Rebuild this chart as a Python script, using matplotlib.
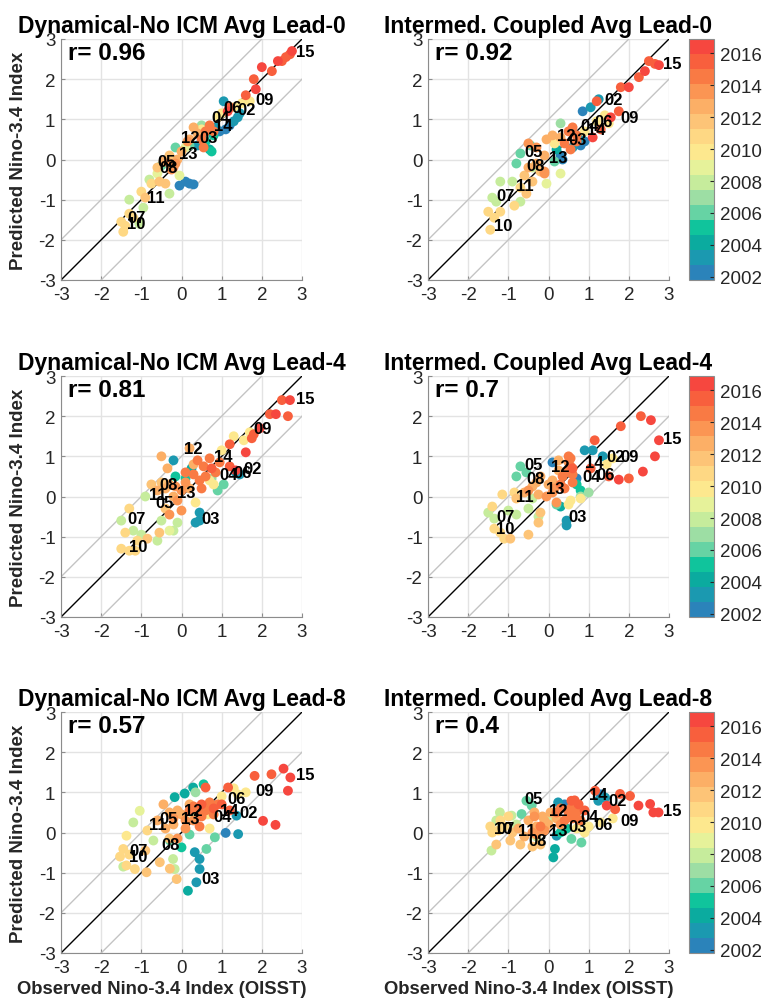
import matplotlib
matplotlib.use('Agg')
import matplotlib.pyplot as plt
from matplotlib.colors import ListedColormap, Normalize
from matplotlib.colorbar import ColorbarBase

plt.rcParams['font.family'] = ['Liberation Sans', 'DejaVu Sans']

# (observed, predicted, decimal year)
dyn0_pts = [
    (2.75, 2.7, 2016.0), (2.7, 2.62, 2015.9), (2.6, 2.55, 2015.8), (2.5, 2.45, 2015.7),
    (2.4, 2.45, 2016.1), (2.25, 2.2, 2015.6), (2.0, 2.3, 2016.2), (1.8, 2.0, 2015.5),
    (1.85, 1.75, 2016.3), (1.6, 1.6, 2015.4), (1.2, 1.3, 2015.3), (1.15, 1.2, 2016.4),
    (1.3, 0.95, 2002.8), (1.4, 1.05, 2002.9), (1.2, 0.85, 2002.7), (1.1, 0.75, 2002.6),
    (1.45, 1.15, 2002.95), (0.95, 0.7, 2002.5), (0.85, 0.8, 2003.0), (0.2, -0.6, 2002.1),
    (0.3, -0.62, 2002.2), (0.1, -0.55, 2002.3), (-0.05, -0.65, 2002.0),
    (1.05, 1.45, 2003.2), (0.7, 0.25, 2004.5), (0.6, 0.45, 2004.7), (0.4, 0.35, 2003.6),
    (0.8, 0.6, 2004.9), (-0.5, -0.15, 2005.9), (0.75, 0.2, 2005.2), (-0.15, 0.3, 2006.0),
    (0.2, 0.35, 2006.5), (0.5, 0.85, 2006.9),
    (-1.3, -1.0, 2008.0), (-0.95, -1.2, 2007.9), (-0.3, -0.85, 2008.3), (-0.05, -0.4, 2008.5),
    (-1.05, -1.6, 2008.1), (-0.8, -0.5, 2007.6),
    (-1.45, -1.8, 2010.9), (-1.4, -1.65, 2010.8), (-1.5, -1.55, 2010.7), (1.7, 1.45, 2009.9),
    (1.5, 1.4, 2009.8), (1.3, 1.3, 2010.0), (0.9, 1.05, 2009.6), (0.5, 0.75, 2009.5),
    (0.1, 0.3, 2009.3), (-0.6, -0.35, 2009.0),
    (-1.3, -1.35, 2011.0), (-1.2, -1.45, 2010.6), (-1.0, -0.8, 2011.2), (-0.9, -0.95, 2011.9),
    (-0.75, -0.6, 2011.1), (-0.55, -0.55, 2012.0), (-0.4, -0.6, 2011.5), (-0.3, 0.1, 2011.6),
    (1.0, 1.15, 2010.1),
    (-0.6, -0.2, 2012.1), (-0.45, -0.05, 2012.3), (-0.3, -0.1, 2013.5), (-0.2, -0.2, 2013.2),
    (-0.1, 0.0, 2013.0), (0.0, 0.2, 2012.9), (0.2, 0.5, 2012.6), (0.4, 0.65, 2012.5),
    (0.3, 0.8, 2012.4), (0.15, 0.45, 2013.3),
    (0.5, 0.5, 2014.5), (0.6, 0.7, 2014.7), (0.7, 0.85, 2014.8), (0.55, 0.3, 2014.2),
    (-0.25, -0.25, 2014.0), (0.8, 0.7, 2014.9), (-0.15, -0.1, 2013.9),
]
icm0_pts = [
    (2.75, 2.35, 2016.0), (2.65, 2.38, 2015.9), (2.5, 2.45, 2015.8), (2.4, 2.2, 2016.1),
    (2.25, 2.05, 2015.7), (2.0, 1.8, 2016.2), (1.8, 1.8, 2015.6), (1.75, 1.2, 2015.5),
    (1.55, 1.05, 2016.3), (1.3, 0.75, 2015.4), (1.1, 0.55, 2016.4), (1.2, 1.45, 2015.3),
    (0.7, 0.45, 2015.0),
    (1.25, 1.5, 2002.9), (0.85, 1.2, 2002.7), (1.05, 1.3, 2002.8), (0.9, 0.45, 2002.5),
    (0.8, 0.35, 2002.3), (0.3, 0.1, 2002.1), (0.35, 0.0, 2002.0),
    (0.8, 0.55, 2003.1), (0.6, 0.3, 2003.6), (0.2, 0.25, 2004.5),
    (-0.7, 0.15, 2005.9), (-0.45, 0.35, 2006.0), (-0.8, -0.1, 2005.8), (0.3, 0.9, 2006.8),
    (0.15, -0.05, 2006.3),
    (-1.2, -0.55, 2008.1), (-1.4, -0.95, 2007.9), (-0.9, -0.55, 2008.2), (-0.4, -0.2, 2008.4),
    (-1.3, -1.05, 2008.0), (-0.7, -1.05, 2007.8),
    (1.5, 0.9, 2009.9), (1.4, 1.1, 2010.0), (1.2, 0.95, 2009.8), (0.9, 0.7, 2009.7),
    (0.3, -0.35, 2009.3), (-0.05, -0.6, 2009.1), (-1.5, -1.3, 2010.7), (-1.35, -1.45, 2010.8),
    (-1.45, -1.75, 2010.9), (-1.2, -1.3, 2011.0), (-0.85, -1.15, 2011.1), (-0.7, -0.7, 2011.2),
    (-0.55, -0.85, 2011.9), (-0.4, -0.55, 2012.0), (-0.6, -0.4, 2011.5), (-0.2, -0.3, 2011.6),
    (0.15, 0.4, 2010.1),
    (-0.5, -0.2, 2012.2), (-0.3, -0.1, 2012.4), (-0.1, 0.1, 2012.6), (0.1, 0.6, 2012.8),
    (-0.05, 0.5, 2012.9), (0.3, 0.55, 2013.1), (-0.3, 0.3, 2013.3), (-0.1, -0.3, 2013.6),
    (0.5, 0.7, 2014.5), (0.6, 0.8, 2014.7), (0.55, 0.25, 2014.2), (-0.1, -0.35, 2014.0),
    (0.4, 0.4, 2014.8), (0.7, 0.6, 2014.9), (-0.5, 0.4, 2013.9),
]
dyn4_pts = [
    (2.7, 2.4, 2016.0), (2.5, 2.4, 2015.9), (2.65, 2.0, 2015.8), (2.35, 2.05, 2016.1),
    (2.2, 2.05, 2015.7), (1.95, 1.7, 2016.2), (1.8, 1.55, 2015.6), (1.75, 1.45, 2015.5),
    (1.6, 1.1, 2016.3), (1.2, 1.3, 2015.3), (1.2, 0.75, 2015.4), (1.35, 0.65, 2016.4),
    (0.95, 0.85, 2014.9), (0.7, 0.95, 2014.8), (0.55, 0.75, 2014.6), (0.85, 0.6, 2014.7),
    (1.45, 0.55, 2002.9), (1.35, 0.6, 2002.8), (0.45, -0.4, 2003.1), (0.45, -0.6, 2003.0),
    (0.35, -0.65, 2002.9),
    (-0.2, 0.9, 2003.5), (0.25, 0.7, 2004.5), (0.1, 0.45, 2005.0), (1.05, 0.3, 2006.2),
    (0.9, 0.15, 2006.0), (-0.15, 0.5, 2005.5),
    (-1.5, -0.6, 2008.0), (-1.2, -0.85, 2007.9), (-1.0, -0.95, 2008.1), (-0.5, -0.6, 2007.8),
    (-0.2, -0.85, 2008.4), (-0.1, -0.65, 2008.3), (-0.6, -1.1, 2008.2), (-0.9, 0.0, 2007.5),
    (0.75, 0.45, 2006.9),
    (-1.4, -0.9, 2010.8), (-1.5, -1.3, 2010.7), (1.3, 1.5, 2009.9), (1.55, 1.4, 2009.8),
    (1.7, 1.6, 2010.0), (1.0, 1.15, 2009.7), (0.7, 0.4, 2009.6), (0.35, -0.15, 2009.4),
    (0.8, 0.3, 2009.5), (-0.3, -0.85, 2009.1),
    (-1.3, -1.35, 2010.9), (-1.15, -1.35, 2011.0), (-1.1, -1.1, 2011.2), (-1.3, -0.3, 2011.1),
    (-0.85, -1.05, 2011.9), (-0.75, 0.3, 2011.5), (-0.5, 0.35, 2011.6), (-0.4, -0.3, 2012.0),
    (-0.55, -0.9, 2011.8),
    (-0.5, 1.0, 2012.5), (0.2, 1.2, 2012.6), (-0.35, 0.7, 2012.4), (-0.6, 0.15, 2012.2),
    (-0.4, 0.2, 2012.3), (-0.2, 0.0, 2013.0), (-0.1, -0.1, 2013.2), (0.0, 0.15, 2013.3),
    (0.3, 0.8, 2012.8), (0.2, 0.2, 2012.9), (-0.3, -0.45, 2013.6), (0.0, -0.35, 2013.9),
    (0.3, 0.55, 2014.5), (0.45, 0.4, 2014.3), (0.6, 0.5, 2014.4), (-0.15, 0.25, 2014.0),
    (0.5, 0.2, 2014.2), (0.1, 0.6, 2014.1),
    (0.1, 0.35, 2013.4), (0.4, 0.9, 2014.6), (0.75, 0.7, 2015.1), (-0.3, 0.3, 2012.7),
]
icm4_pts = [
    (2.3, 2.0, 2015.9), (2.55, 1.9, 2016.0), (1.8, 1.75, 2015.8), (1.15, 1.4, 2015.7),
    (2.75, 1.4, 2016.1), (2.65, 1.0, 2016.2), (2.35, 0.62, 2016.3), (2.0, 0.45, 2015.6),
    (1.75, 0.42, 2016.4), (1.5, 0.5, 2015.5), (1.05, 0.7, 2015.4), (0.55, 0.95, 2015.0),
    (0.6, 0.55, 2014.9),
    (0.9, 1.15, 2002.8), (1.1, 1.15, 2002.9), (1.35, 1.0, 2003.0), (0.1, 0.85, 2002.5),
    (0.45, -0.6, 2003.1), (0.45, -0.72, 2003.2), (0.7, 0.45, 2002.7),
    (-0.7, 0.75, 2005.9), (-0.8, 0.5, 2006.0), (-0.55, 0.6, 2006.1), (0.3, -0.25, 2004.5),
    (0.7, 0.3, 2005.0), (0.2, -0.2, 2006.5), (0.8, 0.15, 2004.8),
    (-1.5, -0.4, 2008.0), (-1.35, -0.55, 2007.9), (-1.0, -0.35, 2008.1), (-0.8, -0.45, 2008.2),
    (-0.5, -0.3, 2008.3), (-0.25, -0.5, 2008.4), (-0.4, -0.05, 2007.8), (0.8, 0.0, 2007.0),
    (1.0, 0.1, 2006.9),
    (-1.15, 0.05, 2010.8), (-0.85, 0.1, 2010.9), (1.6, 0.95, 2010.0), (1.45, 0.8, 2009.9),
    (0.55, -0.1, 2009.6), (0.8, -0.05, 2009.5), (0.5, -0.2, 2009.4),
    (-1.35, -0.8, 2011.0), (-1.4, -0.25, 2010.7), (-1.2, -0.9, 2011.1), (-1.1, -1.05, 2011.2),
    (-0.95, -1.05, 2011.9), (-0.5, -0.95, 2011.8), (-0.25, -0.65, 2011.5), (-0.8, -0.05, 2011.6),
    (-0.2, -0.4, 2012.0),
    (-0.4, 0.25, 2012.3), (-0.2, 0.5, 2012.5), (0.1, 0.4, 2012.6), (0.25, 0.65, 2012.8),
    (-0.6, 0.1, 2012.2), (-0.25, 0.05, 2013.0), (0.1, 0.1, 2013.2), (0.2, -0.15, 2013.5),
    (0.5, 1.0, 2014.5), (0.35, 0.5, 2014.3), (0.6, 0.35, 2014.2), (0.15, 0.2, 2014.0),
    (0.55, 0.75, 2014.6), (-0.05, 0.0, 2013.9), (0.4, 0.2, 2014.1),
    (0.3, 0.3, 2014.4), (0.45, 0.6, 2014.7), (0.25, 0.9, 2013.1), (0.0, 0.3, 2012.7),
    (-0.3, 0.35, 2012.4), (-0.5, 0.15, 2013.4), (0.6, 0.7, 2015.1), (0.5, 0.85, 2013.7),
]
dyn8_pts = [
    (1.82, 1.41, 2015.8), (2.24, 1.45, 2015.9), (2.54, 1.59, 2016.0), (2.71, 1.37, 2016.1),
    (2.65, 1.04, 2016.2), (2.03, 0.29, 2016.3), (2.34, 0.19, 2016.4), (1.16, 1.12, 2015.7),
    (0.6, 1.12, 2015.5), (1.0, 0.7, 2015.6), (1.2, 0.55, 2015.4), (0.8, 0.6, 2015.3),
    (1.37, 0.42, 2002.9), (1.41, -0.04, 2002.8), (1.1, -0.01, 2002.7), (0.45, -0.66, 2003.0),
    (0.45, -0.91, 2003.1), (0.37, -1.24, 2003.2), (0.16, -1.45, 2004.0), (0.33, -0.49, 2003.5),
    (0.08, 0.97, 2004.6), (0.29, 1.12, 2003.8), (-0.17, 0.88, 2004.2), (0.55, 1.2, 2005.5),
    (0.83, -0.12, 2006.0), (0.62, -0.41, 2006.2), (0.0, -0.37, 2005.2), (-0.29, -0.2, 2006.4),
    (0.35, 1.0, 2006.8), (0.2, -0.05, 2005.8),
    (-1.04, 0.54, 2008.5), (-1.2, 0.25, 2008.0), (-0.21, -0.66, 2008.2), (-0.17, -0.91, 2008.3),
    (-1.37, -0.08, 2010.2), (-1.45, -0.85, 2007.9), (-0.7, -0.2, 2008.1), (0.3, 0.45, 2007.5),
    (1.4, 0.95, 2009.9), (1.6, 1.0, 2010.0), (1.3, 1.1, 2009.8), (1.0, 0.9, 2009.7),
    (0.65, 0.45, 2009.5), (0.7, 0.1, 2009.4), (-1.3, -0.55, 2010.8),
    (-1.45, -0.41, 2010.9), (-1.37, -0.82, 2011.0), (-1.16, -0.91, 2011.1), (-0.87, -0.99, 2011.9),
    (-0.54, -0.74, 2011.8), (-0.29, -0.9, 2011.5), (-0.12, -1.16, 2011.6), (-1.53, -0.6, 2010.7),
    (-0.85, 0.05, 2011.2), (-0.9, -0.45, 2012.0), (-0.3, -0.15, 2011.3),
    (-0.45, 0.7, 2012.5), (-0.3, 0.5, 2012.4), (-0.6, 0.3, 2012.2), (-0.2, 0.2, 2012.6),
    (0.0, 0.45, 2012.8), (0.2, 0.7, 2012.9), (-0.4, 0.1, 2013.0), (0.1, 0.1, 2013.3),
    (0.3, 0.3, 2013.5), (-0.1, -0.15, 2013.8),
    (0.4, 0.6, 2014.5), (0.6, 0.55, 2014.6), (0.5, 0.4, 2014.3), (0.2, 0.55, 2014.2),
    (-0.2, 0.35, 2014.0), (0.8, 0.45, 2014.8), (0.45, 0.15, 2014.1), (0.9, 0.7, 2014.9),
    (0.1, 0.3, 2013.6), (0.3, 0.65, 2014.4), (0.7, 0.75, 2014.7), (-0.1, 0.55, 2012.7),
    (0.5, 0.7, 2015.2),
]
icm8_pts = [
    (1.16, 1.04, 2015.6), (1.78, 0.96, 2015.8), (2.03, 0.91, 2015.9), (2.24, 0.67, 2016.0),
    (2.53, 0.71, 2016.1), (2.61, 0.5, 2016.2), (2.74, 0.5, 2016.3), (1.66, 0.58, 2015.7),
    (1.45, 0.67, 2016.4), (0.57, 0.79, 2015.4), (0.75, 0.7, 2015.5), (0.9, 0.55, 2015.3),
    (1.41, 0.87, 2002.9), (1.24, 0.79, 2002.8), (1.3, 0.95, 2002.7), (0.24, 0.75, 2003.0),
    (0.2, -0.08, 2003.5), (0.16, -0.41, 2004.0), (0.12, -0.62, 2004.1), (0.4, 0.7, 2002.6),
    (-0.55, 0.79, 2005.9), (-0.42, 0.67, 2006.0), (-0.67, 0.46, 2006.1), (0.57, -0.16, 2006.3),
    (0.82, -0.25, 2006.4), (0.3, 0.0, 2005.5), (0.45, 0.1, 2004.8),
    (-1.42, -0.45, 2008.0), (-1.21, 0.5, 2007.9), (-0.92, 0.42, 2008.1), (-1.3, 0.3, 2008.2),
    (-0.8, 0.2, 2008.3), (-0.3, -0.1, 2008.4), (0.0, 0.3, 2007.6),
    (-1.45, 0.15, 2010.8), (-1.25, 0.05, 2010.9), (1.0, 0.15, 2009.8), (1.3, 0.25, 2009.9),
    (1.6, 0.35, 2010.0), (0.7, 0.1, 2009.6), (0.9, 0.0, 2009.5),
    (-1.4, 0.0, 2011.0), (-1.2, 0.3, 2011.1), (-1.1, 0.15, 2011.2), (-1.3, -0.3, 2011.9),
    (-0.95, -0.2, 2011.8), (-0.7, -0.3, 2011.5), (-0.4, -0.35, 2011.6), (-0.2, -0.3, 2012.0),
    (-1.0, 0.4, 2010.7), (-0.9, 0.0, 2011.3),
    (-0.35, 0.5, 2012.5), (-0.15, 0.4, 2012.4), (-0.5, 0.3, 2012.2), (-0.3, 0.15, 2012.6),
    (0.05, 0.5, 2012.8), (0.2, 0.35, 2012.9), (-0.6, -0.1, 2013.0), (-0.3, -0.05, 2013.3),
    (-0.1, 0.05, 2013.5), (0.3, 0.2, 2013.8),
    (0.5, 0.5, 2014.5), (0.6, 0.35, 2014.6), (0.4, 0.3, 2014.3), (0.2, 0.5, 2014.2),
    (-0.35, 0.4, 2014.0), (0.8, 0.3, 2014.8), (-0.2, 0.15, 2014.1), (0.7, 0.5, 2014.9),
    (-0.4, 0.0, 2013.9),
    (0.0, 0.2, 2013.1), (0.3, 0.6, 2014.4), (0.55, 0.6, 2014.7), (-0.1, 0.3, 2012.7),
    (0.65, 0.8, 2015.2), (-0.75, 0.1, 2012.3),
]

# year labels (text, x, y)
dyn0_lbl = [('15', 2.85, 2.7), ('09', 1.85, 1.5), ('06', 1.05, 1.3), ('02', 1.4, 1.25),
            ('04', 0.75, 1.05), ('14', 0.8, 0.85), ('12', 0.0, 0.55), ('03', 0.45, 0.55),
            ('13', -0.05, 0.15), ('05', -0.6, -0.05), ('08', -0.55, -0.2), ('11', -0.85, -0.95),
            ('07', -1.35, -1.45), ('10', -1.35, -1.6)]
icm0_lbl = [('15', 2.85, 2.4), ('02', 1.4, 1.5), ('09', 1.8, 1.05), ('04', 0.8, 0.85),
            ('14', 0.95, 0.75), ('06', 1.15, 0.95), ('12', 0.2, 0.6), ('03', 0.5, 0.5),
            ('05', -0.6, 0.2), ('13', 0.0, 0.05), ('08', -0.55, -0.15), ('11', -0.8, -0.65),
            ('07', -1.3, -0.9), ('10', -1.35, -1.65)]
dyn4_lbl = [('15', 2.85, 2.45), ('09', 1.8, 1.7), ('12', 0.05, 1.2), ('14', 0.8, 1.0),
            ('02', 1.55, 0.7), ('06', 1.3, 0.6), ('04', 0.95, 0.55), ('08', -0.55, 0.3),
            ('13', -0.1, 0.1), ('11', -0.8, 0.05), ('05', -0.65, -0.15), ('07', -1.35, -0.55),
            ('03', 0.5, -0.55), ('10', -1.3, -1.25)]
icm4_lbl = [('15', 2.85, 1.45), ('02', 1.45, 1.0), ('09', 1.8, 1.0), ('14', 0.9, 0.85),
            ('06', 1.2, 0.55), ('04', 0.85, 0.5), ('05', -0.6, 0.8), ('12', 0.05, 0.75),
            ('08', -0.55, 0.45), ('13', -0.05, 0.2), ('11', -0.8, 0.0), ('07', -1.3, -0.5),
            ('10', -1.3, -0.8), ('03', 0.5, -0.5)]
dyn8_lbl = [('15', 2.85, 1.45), ('09', 1.85, 1.05), ('06', 1.15, 0.85), ('02', 1.45, 0.5),
            ('14', 0.95, 0.55), ('04', 0.8, 0.4), ('12', 0.05, 0.55), ('05', -0.55, 0.35),
            ('13', 0.0, 0.35), ('11', -0.8, 0.2), ('08', -0.5, -0.3), ('07', -1.3, -0.45),
            ('10', -1.3, -0.6), ('03', 0.5, -1.15)]
icm8_lbl = [('15', 2.85, 0.55), ('02', 1.5, 0.8), ('14', 1.0, 0.95), ('09', 1.8, 0.3),
            ('04', 0.8, 0.4), ('06', 1.15, 0.2), ('03', 0.5, 0.15), ('12', 0.0, 0.55),
            ('05', -0.6, 0.85), ('13', 0.0, 0.05), ('11', -0.75, 0.05), ('07', -1.3, 0.1),
            ('10', -1.35, 0.1), ('08', -0.5, -0.2)]

titles = ['Dynamical-No ICM Avg Lead-0', 'Intermed. Coupled Avg Lead-0',
          'Dynamical-No ICM Avg Lead-4', 'Intermed. Coupled Avg Lead-4',
          'Dynamical-No ICM Avg Lead-8', 'Intermed. Coupled Avg Lead-8']
r_values = ['0.96', '0.92', '0.81', '0.7', '0.57', '0.4']
panel_pts = [dyn0_pts, icm0_pts, dyn4_pts, icm4_pts, dyn8_pts, icm8_pts]
panel_lbl = [dyn0_lbl, icm0_lbl, dyn4_lbl, icm4_lbl, dyn8_lbl, icm8_lbl]

axis_ticks = [-3, -2, -1, 0, 1, 2, 3]
cbar_ticks = [2002, 2004, 2006, 2008, 2010, 2012, 2014, 2016]
year_lo, year_hi = 2001.8, 2016.9
band_colors = ['#2b83ba', '#1b99b0', '#0bab9f', '#10c49c', '#66d3a4', '#9ddea4',
               '#c6ec9c', '#e6f29a', '#fde88e', '#fed884', '#fdc477', '#fcaf66',
               '#fb9553', '#f97a44', '#f85f3d', '#f6473f']

cmap = ListedColormap(band_colors)
norm = Normalize(vmin=year_lo, vmax=year_hi)
tick_col = '#262626'

fig = plt.figure(figsize=(7.7, 10.04), dpi=100)
W, H = 770.0, 1004.0
col_left = [61, 428]
row_top = [40, 377, 713]
size = 241

for i in range(6):
    row, col = divmod(i, 2)
    ax = fig.add_axes([col_left[col] / W, 1 - (row_top[row] + size) / H, size / W, size / H])
    ax.plot([-3, 3], [-3, 3], color='black', lw=1, zorder=1)
    ax.plot([-3, 2], [-2, 3], color='#c4c4c4', lw=1, zorder=1)
    ax.plot([-2, 3], [-3, 2], color='#c4c4c4', lw=1, zorder=1)

    pts = sorted(panel_pts[i], key=lambda p: p[2])
    obs = [p[0] for p in pts]
    pred = [p[1] for p in pts]
    yrs = [p[2] for p in pts]
    ax.scatter(obs, pred, c=yrs, cmap=cmap, norm=norm, s=50, linewidths=0, zorder=2)

    for lbl, lx, ly in panel_lbl[i]:
        ax.text(lx, ly, lbl, fontsize=12, fontweight='bold', ha='left', va='center', zorder=3)
    ax.text(-2.82, 2.67, 'r= ' + r_values[i], fontsize=17.5, fontweight='bold',
            ha='left', va='center', zorder=3)

    ax.set_xlim(-3, 3)
    ax.set_ylim(-3, 3)
    ax.set_xticks(axis_ticks)
    ax.set_yticks(axis_ticks)
    ax.set_xticklabels([str(t) for t in axis_ticks])
    ax.set_yticklabels([str(t) for t in axis_ticks])
    ax.grid(True, color='#e3e3e3', lw=1)
    ax.set_axisbelow(True)
    for side in ['top', 'right']:
        ax.spines[side].set_visible(False)
    for side in ['left', 'bottom']:
        ax.spines[side].set_color('#8c8c8c')
        ax.spines[side].set_linewidth(0.8)
    ax.tick_params(direction='in', length=3, color='#8c8c8c', labelsize=13.5,
                   labelcolor=tick_col, pad=4)
    ax.set_title(titles[i], fontsize=16.5, fontweight='bold', pad=5)

    if col == 0:
        ax.set_ylabel('Predicted Nino-3.4 Index', fontsize=13.5, fontweight='bold', color='#262626')
        ax.yaxis.set_label_coords(-0.14, 0.5)
    if row == 2:
        ax.set_xlabel('Observed Nino-3.4 Index (OISST)', fontsize=13.3, fontweight='bold',
                      color='#262626')
        ax.xaxis.set_label_coords(0.42, -0.11)

    if col == 1:
        cax = fig.add_axes([689 / W, 1 - (row_top[row] + size) / H, 25 / W, size / H])
        cb = ColorbarBase(cax, cmap=cmap, norm=norm, orientation='vertical')
        cb.set_ticks(cbar_ticks)
        cb.set_ticklabels([str(t) for t in cbar_ticks])
        cb.outline.set_edgecolor('#8c8c8c')
        cb.outline.set_linewidth(0.8)
        cax.tick_params(direction='in', length=3, color='#262626', labelsize=13.5,
                        labelcolor=tick_col, pad=4)

fig.savefig('out.png', dpi=100)
